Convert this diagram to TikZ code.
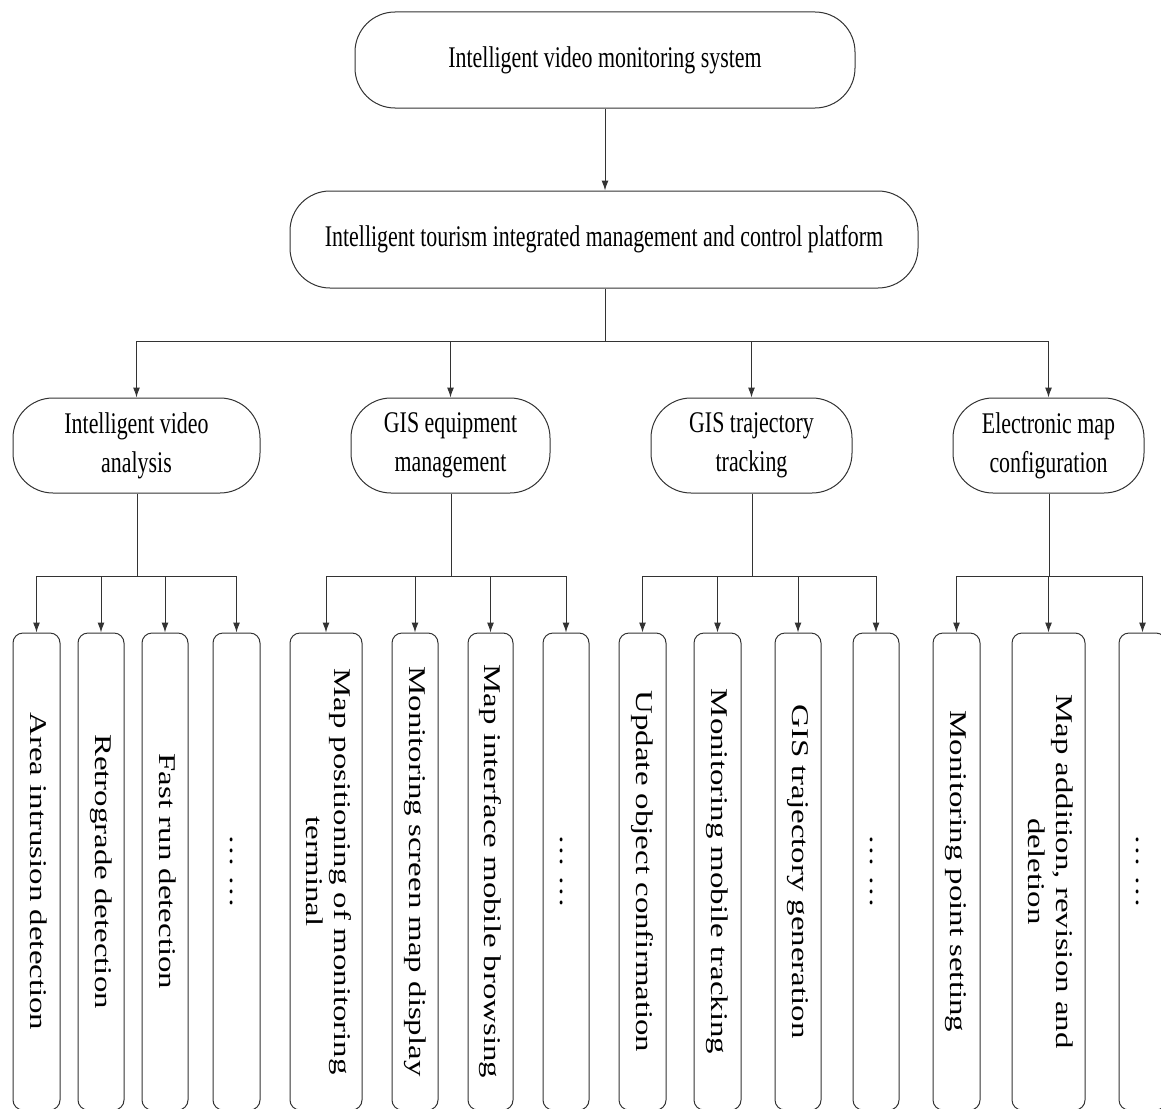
\documentclass[tikz,border=0pt]{standalone}
\usepackage{fontspec}
\setmainfont{Liberation Serif}
\newfontfamily\hfont[FakeStretch=0.73]{Liberation Serif}
\newfontfamily\vfont[FakeStretch=1.37]{Liberation Serif}
\usetikzlibrary{arrows.meta}
\tikzset{
  ln/.style={draw=black!80, line width=1pt},
  arr/.style={ln, -{Latex[length=10pt,width=7pt]}},
  topbox/.style={ln, rounded corners=40pt, inner sep=0pt, align=center,
    font=\hfont\fontsize{30}{39}\selectfont},
  leaf/.style={ln, rounded corners=10pt, inner sep=0pt, minimum height=477pt}
}
\newcommand{\vtext}[1]{\rotatebox{-90}{\vfont\fontsize{24}{28}\selectfont\begin{tabular}{@{}c@{}}#1\end{tabular}}}
\begin{document}
\begin{tikzpicture}[x=1pt,y=-1pt]
\useasboundingbox (0,0) rectangle (1161,1108);
\clip (0,0) rectangle (1161,1108);
% level 0/1
\node[topbox, minimum width=500pt, minimum height=96pt] (p1) at (605,60) {Intelligent video monitoring system};
\node[topbox, minimum width=628pt, minimum height=97pt] (p2) at (604,239.5) {Intelligent tourism integrated management and control platform};
\draw[arr] (p1.south) -- (p2.north -| p1.south);
% level 2
\node[topbox, minimum width=247pt, minimum height=95pt] (n1) at (136.5,445.5) {Intelligent video\\analysis};
\node[topbox, minimum width=199pt, minimum height=95pt] (n2) at (450.5,445.5) {GIS equipment\\management};
\node[topbox, minimum width=201pt, minimum height=95pt] (n3) at (751.5,445.5) {GIS trajectory\\tracking};
\node[topbox, minimum width=191pt, minimum height=95pt] (n4) at (1048.5,445.5) {Electronic map\\configuration};
\coordinate (j0) at (605,341);
\draw[ln] (p2.south -| j0) -- (j0);
\foreach \n in {n1,n2,n3,n4} \draw[arr] (j0) -| (\n.north);
% leaves group 1
\node[leaf, minimum width=47pt] (a1) at (36.5,871.5) {\vtext{Area intrusion detection}};
\node[leaf, minimum width=46pt] (a2) at (101,871.5) {\vtext{Retrograde detection}};
\node[leaf, minimum width=46pt] (a3) at (165,871.5) {\vtext{Fast run detection}};
\node[leaf, minimum width=47pt] (a4) at (236.5,871.5) {\vtext{… …}};
% group 2
\node[leaf, minimum width=72pt] (b1) at (326,871.5) {\vtext{Map positioning of monitoring\\terminal}};
\node[leaf, minimum width=46pt] (b2) at (415,871.5) {\vtext{Monitoring screen map display}};
\node[leaf, minimum width=45pt] (b3) at (490.5,871.5) {\vtext{Map interface mobile browsing}};
\node[leaf, minimum width=46pt] (b4) at (566,871.5) {\vtext{… …}};
% group 3
\node[leaf, minimum width=47pt] (c1) at (642.5,871.5) {\vtext{Update object confirmation}};
\node[leaf, minimum width=47pt] (c2) at (717.5,871.5) {\vtext{Monitoring mobile tracking}};
\node[leaf, minimum width=46pt] (c3) at (798,871.5) {\vtext{GIS trajectory generation}};
\node[leaf, minimum width=46pt] (c4) at (876,871.5) {\vtext{… …}};
% group 4
\node[leaf, minimum width=47pt] (d1) at (956.5,871.5) {\vtext{Monitoring point setting}};
\node[leaf, minimum width=73pt] (d2) at (1048.5,871.5) {\vtext{Map addition, revision and\\deletion}};
\node[leaf, minimum width=47pt] (d3) at (1142.5,871.5) {\vtext{… …}};
% connectors
\coordinate (j1) at (137,576);
\coordinate (j2) at (451,576);
\coordinate (j3) at (752,576);
\coordinate (j4) at (1049,576);
\draw[ln] (n1.south -| j1) -- (j1);
\draw[ln] (n2.south -| j2) -- (j2);
\draw[ln] (n3.south -| j3) -- (j3);
\draw[ln] (n4.south -| j4) -- (j4);
\foreach \b in {a1,a2,a3,a4} \draw[arr] (j1) -| (\b.north);
\foreach \b in {b1,b2,b3,b4} \draw[arr] (j2) -| (\b.north);
\foreach \b in {c1,c2,c3,c4} \draw[arr] (j3) -| (\b.north);
\foreach \b in {d1,d2,d3} \draw[arr] (j4) -| (\b.north);
\end{tikzpicture}
\end{document}
